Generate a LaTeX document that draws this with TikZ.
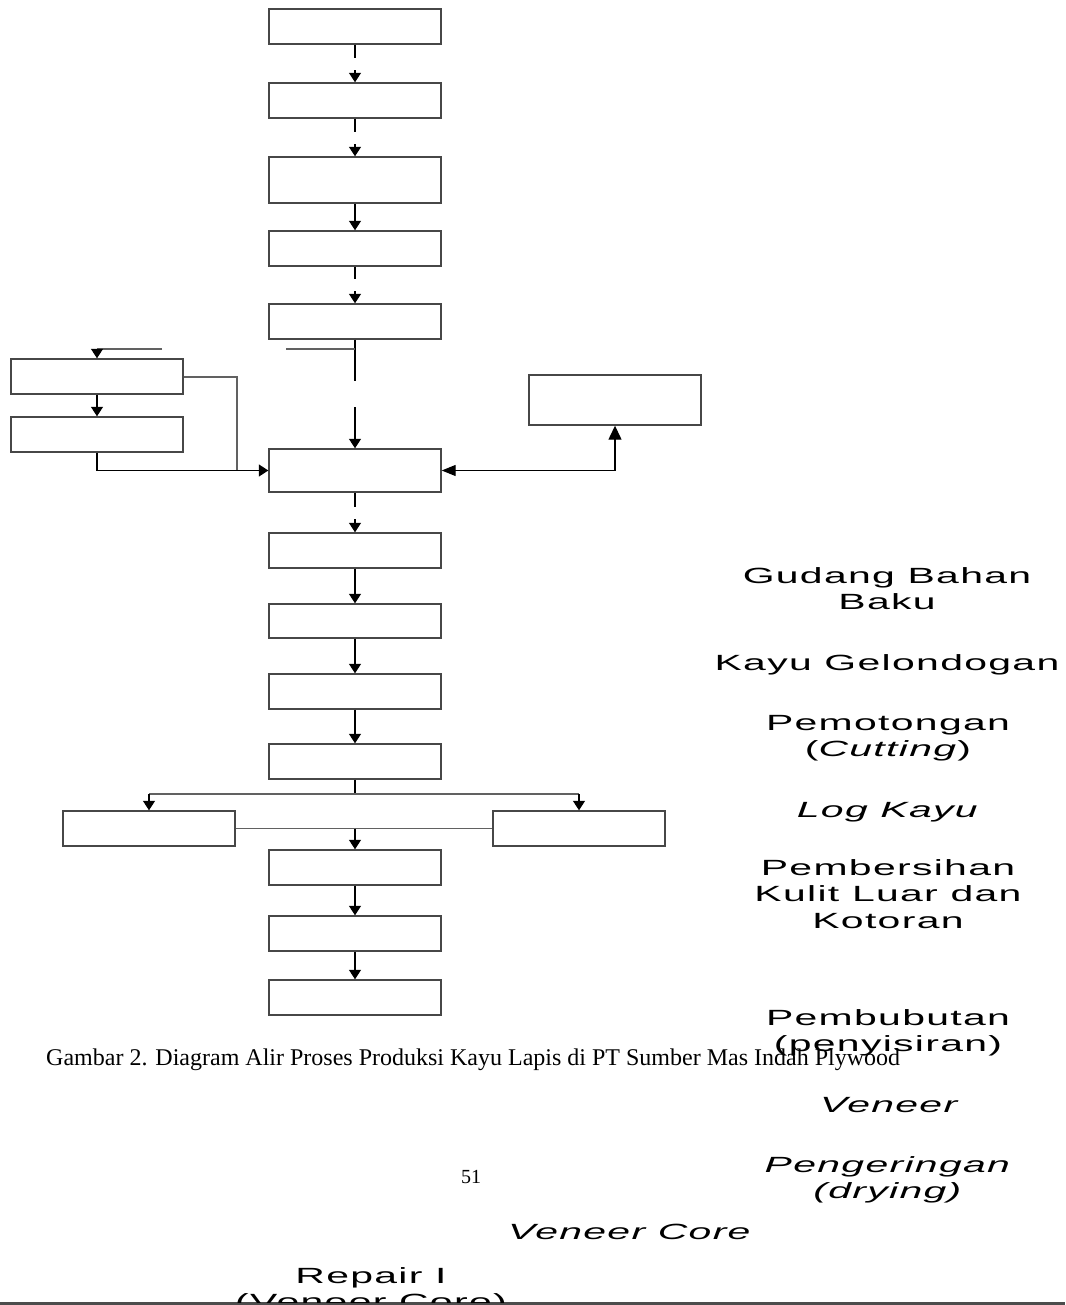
\documentclass[tikz,border=0pt]{standalone}
\usepackage{fontspec}
\usetikzlibrary{arrows.meta,calc}
\newfontfamily\lblfont[FakeStretch=1.86,LetterSpace=6]{Liberation Sans}
\newfontfamily\capfont{Liberation Serif}
\newcommand\mlines[1]{\begin{tabular}[t]{@{}c@{}}#1\end{tabular}}
\tikzset{
  box/.style={draw=black!72, line width=1.4pt, minimum width=172pt, minimum height=35pt, inner sep=0pt, fill=white},
  conn/.style={draw=black, line width=1.3pt},
  gline/.style={draw=black!62, line width=1.4pt},
  arr/.style={conn, -{Triangle[width=12pt,length=9.5pt]}},
  bigarr/.style={conn, {Triangle[width=11pt,length=14pt]}-{Triangle[width=13pt,length=14pt]}},
  lbl/.style={inner sep=0pt, anchor=base, font=\lblfont\fontsize{22}{26.5}\selectfont},
  captext/.style={inner sep=0pt, anchor=base west, font=\capfont\fontsize{24}{28}\selectfont},
}
\begin{document}
\begin{tikzpicture}[x=1pt,y=-1pt]
\useasboundingbox (0,0) rectangle (1065,1305);
\fill[white] (0,0) rectangle (1065,1305);
\fill[black!70] (0,1302) rectangle (1065,1305);
\begin{scope}
\clip (0,0) rectangle (1065,1302);
% central column
\node[box] (b1) at (355,26.5) {};
\node[box] (b2) at (355,100.5) {};
\node[box, minimum height=46pt] (b3) at (355,180) {};
\node[box] (b4) at (355,248.5) {};
\node[box] (b5) at (355,321.5) {};
\node[box, minimum height=43pt] (c6) at (355,470.5) {};
\node[box] (c7) at (355,550.5) {};
\node[box, minimum height=34pt] (c8) at (355,621) {};
\node[box] (c9) at (355,691.5) {};
\node[box] (c10) at (355,761.5) {};
\node[box] (c11) at (355,867.5) {};
\node[box] (c12) at (355,933.5) {};
\node[box] (c13) at (355,997.5) {};
% side boxes
\node[box] (la) at (97,376.5) {};
\node[box] (lb) at (97,434.5) {};
\node[box, minimum height=50pt] (rr) at (615,400) {};
\node[box] (sl) at (149,828.5) {};
\node[box] (sr) at (579,828.5) {};
% broken connectors
\draw[conn] (b1.south) -- ++(0,13);
\draw[arr] ($(b2.north)+(0,-12)$) -- (b2.north);
\draw[conn] (b2.south) -- ++(0,13);
\draw[arr] ($(b3.north)+(0,-12)$) -- (b3.north);
\draw[arr] (b3.south) -- (b4.north);
\draw[conn] (b4.south) -- ++(0,12);
\draw[arr] ($(b5.north)+(0,-12)$) -- (b5.north);
\draw[conn] (b5.south) -- ++(0,41);
\coordinate (k1) at (286,349);
\draw[gline] (k1) -- (b5.south |- k1);
\draw[arr] ($(c6.north)+(0,-41)$) -- (c6.north);
% left inputs
\coordinate (k2) at (162,349);
\draw[gline] (k2) -- (la.north |- k2);
\draw[arr] (la.north |- k2) -- (la.north);
\draw[arr] (la.south) -- (lb.north);
\coordinate (k3) at (237,377);
\draw[gline] (la.east |- k3) -- (k3) -- (k3 |- c6.west);
\draw[arr] (lb.south) -- (lb.south |- c6.west) -- (c6.west);
% right loop
\draw[bigarr] (c6.east) -- (rr.south |- c6.east) -- (rr.south);
% lower column
\draw[conn] (c6.south) -- ++(0,14);
\draw[arr] ($(c7.north)+(0,-13)$) -- (c7.north);
\draw[arr] (c7.south) -- (c8.north);
\draw[arr] (c8.south) -- (c9.north);
\draw[arr] (c9.south) -- (c10.north);
\coordinate (k4) at (355,794);
\draw[conn] (c10.south) -- (k4);
\draw[gline] (sl.north |- k4) -- (sr.north |- k4);
\draw[arr] (sl.north |- k4) -- (sl.north);
\draw[arr] (sr.north |- k4) -- (sr.north);
\draw[gline] (sl.east) -- (sr.west);
\draw[arr] (c11.north |- sl.east) -- (c11.north);
\draw[arr] (c11.south) -- (c12.north);
\draw[arr] (c12.south) -- (c13.north);
% displaced labels
\node[lbl] (t1) at (887,583) {\mlines{Gudang Bahan\\Baku}};
\node[lbl] (t2) at (887,670) {Kayu Gelondogan};
\node[lbl] (t3) at (888,730) {\mlines{Pemotongan\\(\textit{Cutting})}};
\node[lbl] (t4) at (888,817) {\textit{Log Kayu}};
\node[lbl] (t5) at (888,875) {\mlines{Pembersihan\\Kulit Luar dan\\Kotoran}};
\node[lbl] (t6) at (888,1025) {\mlines{Pembubutan\\(penyisiran)}};
\node[lbl] (t7) at (890,1112) {\textit{Veneer}};
\node[lbl] (t8) at (888,1172) {\mlines{\textit{Pengeringan}\\\textit{(drying)}}};
\node[lbl] (t9) at (630,1239) {\textit{Veneer Core}};
\node[lbl] (t10) at (371,1283) {\mlines{Repair I\\(Veneer Core)}};
% caption and page number
\node[captext] (captn) at (46,1065) {Gambar 2. Diagram Alir Proses Produksi Kayu Lapis di PT Sumber Mas Indah Plywood};
\node[inner sep=0pt, anchor=base, font=\capfont\fontsize{20}{24}\selectfont] (pg) at (471,1183) {51};
\end{scope}
\end{tikzpicture}
\end{document}
